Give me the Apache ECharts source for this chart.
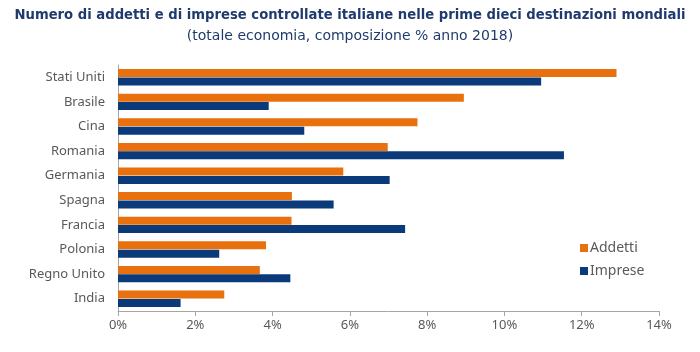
<!DOCTYPE html>
<html>
<head>
<meta charset="utf-8">
<script src="https://cdn.jsdelivr.net/npm/echarts@6/dist/echarts.min.js"></script>
<style>
  html, body { margin: 0; padding: 0; background: #fff; }
  #chart { width: 700px; height: 352px; }
</style>
</head>
<body>
<div id="chart"></div>
<script>
// dati (% sul totale)
var paesi = ['Stati Uniti', 'Brasile', 'Cina', 'Romania', 'Germania', 'Spagna', 'Francia', 'Polonia', 'Regno Unito', 'India'];
var addetti = [12.9, 8.95, 7.75, 6.98, 5.83, 4.5, 4.49, 3.83, 3.67, 2.75];
var imprese = [10.95, 3.9, 4.82, 11.54, 7.03, 5.58, 7.43, 2.62, 4.46, 1.62];

var grigio = '#595959';
var font = 'Noto Sans';

var options = {
  title: [{
    text: 'Numero di addetti e di imprese controllate italiane nelle prime dieci destinazioni mondiali',
    left: 'center', top: 4,
    textStyle: { color: '#1F3B6E', fontSize: 13.2, fontWeight: 'bold', fontFamily: 'DejaVu Sans' }
  }, {
    text: '(totale economia, composizione % anno 2018)',
    left: 'center', top: 24,
    textStyle: { color: '#1F3B6E', fontSize: 14, fontWeight: 'normal', fontFamily: 'DejaVu Sans' }
  }],
  legend: {
    orient: 'vertical',
    left: 575, top: 236,
    itemWidth: 8, itemHeight: 8, itemGap: 9,
    icon: 'rect',
    textStyle: { color: grigio, fontSize: 14, fontFamily: font, padding: [0, 0, 0, -3] },
    data: ['Addetti', 'Imprese']
  },
  grid: { left: 118, right: 41, top: 65, bottom: 41 },
  xAxis: {
    type: 'value',
    min: 0, max: 14, interval: 2,
    splitLine: { show: false },
    axisLine: { show: true, lineStyle: { color: '#A6A6A6' } },
    axisTick: { show: true, length: 5, lineStyle: { color: '#A6A6A6' } },
    axisLabel: { color: grigio, fontSize: 13, fontFamily: font, margin: 8, formatter: '{value}%' }
  },
  yAxis: {
    type: 'category',
    inverse: true,
    data: paesi,
    axisLine: { show: true, lineStyle: { color: '#A6A6A6' } },
    axisTick: { show: false },
    axisLabel: { color: grigio, fontSize: 13, fontFamily: font, margin: 13 }
  },
  series: [{
    name: 'Addetti',
    type: 'bar',
    data: addetti,
    itemStyle: { color: '#E8700E' },
    barWidth: 8,
    barGap: '5%',
    animation: false
  }, {
    name: 'Imprese',
    type: 'bar',
    data: imprese,
    itemStyle: { color: '#0B3A7A' },
    barWidth: 8,
    barGap: '5%',
    animation: false
  }]
};

var chart = echarts.init(document.getElementById('chart'));
chart.setOption(options);
</script>
</body>
</html>
